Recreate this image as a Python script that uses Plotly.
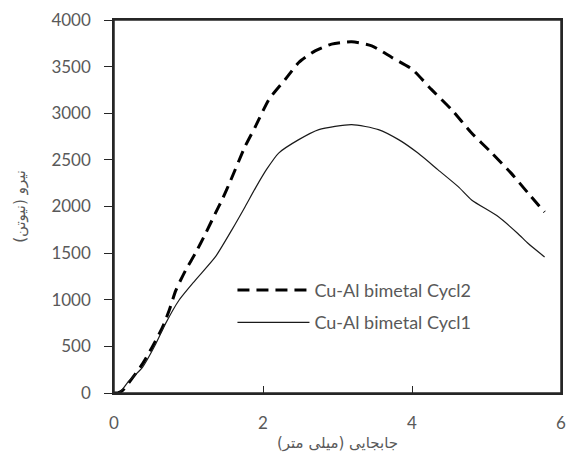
import plotly.graph_objects as go

# Cycle 2 (dashed)
disp_cycl2 = [0.00, 0.05, 0.12, 0.25, 0.38, 0.51, 0.65, 0.74, 0.83, 0.96, 1.09, 1.23, 1.36,
              1.45, 1.56, 1.76, 1.90, 2.08, 2.30, 2.48, 2.70, 2.92, 3.19, 3.46, 3.73,
              4.00, 4.26, 4.53, 4.80, 5.07, 5.33, 5.56, 5.78]
force_cycl2 = [0, 0, 30, 165, 309, 488, 704, 884, 1100, 1315, 1495, 1711, 1927,
               2070, 2268, 2645, 2860, 3148, 3364, 3544, 3669, 3741, 3766, 3723, 3598,
               3472, 3256, 3040, 2789, 2574, 2358, 2142, 1940]

# Cycle 1 (solid)
disp_cycl1 = [0.00, 0.08, 0.20, 0.38, 0.56, 0.69, 0.87, 1.09, 1.36, 1.58, 1.76, 1.90,
              2.05, 2.21, 2.48, 2.75, 3.19, 3.55, 3.82, 4.08, 4.35, 4.62, 4.80, 5.16,
              5.42, 5.56, 5.78]
force_cycl1 = [0, 10, 129, 273, 525, 741, 992, 1208, 1459, 1747, 1998, 2200,
               2400, 2573, 2717, 2825, 2879, 2825, 2717, 2573, 2393, 2213, 2070, 1890,
               1711, 1603, 1459]

x_ticks = [0, 2, 4, 6]
y_ticks = [0, 500, 1000, 1500, 2000, 2500, 3000, 3500, 4000]

label_cycl2 = "Cu-Al bimetal Cycl2"
label_cycl1 = "Cu-Al bimetal Cycl1"
x_title = "جابجایی (میلی متر)"
y_title = "نیرو (نیوتن)"

grey = "#595959"
frame = "#262626"
font_family = "Lato, 'Liberation Sans', 'DejaVu Sans', sans-serif"
ar_font = "'DejaVu Sans', sans-serif"

fig = go.Figure()
fig.add_trace(go.Scatter(x=disp_cycl2, y=force_cycl2, mode="lines", name=label_cycl2,
                         legendgroup="c2",
                         line=dict(color="black", width=3, dash="12px,7px", shape="spline", smoothing=0.6)))
fig.add_trace(go.Scatter(x=disp_cycl1, y=force_cycl1, mode="lines", name=label_cycl1,
                         legendgroup="c1",
                         line=dict(color="#1a1a1a", width=1.2, shape="spline", smoothing=0.6)))

# plot-area frame (top and right borders)
fig.add_shape(type="rect", xref="paper", yref="paper", x0=0, y0=0, x1=1, y1=1,
              line=dict(color=frame, width=1.5), fillcolor="rgba(0,0,0,0)", layer="above")

fig.update_layout(
    width=566, height=454,
    margin=dict(l=114, r=5, t=20, b=61, autoexpand=False),
    paper_bgcolor="white", plot_bgcolor="white",
    font=dict(family=font_family, size=17, color=grey),
    showlegend=True,
    legend=dict(x=0.265, y=0.325, xanchor="left", yanchor="top",
                bgcolor="rgba(0,0,0,0)", itemwidth=72,
                font=dict(family=font_family, size=18, color=grey),
                tracegroupgap=6),
    xaxis=dict(range=[0, 6], tickvals=x_ticks, ticks="inside", ticklen=7,
               tickcolor=frame, showline=True, linecolor=frame, linewidth=1.5,
               mirror=True, showgrid=False, zeroline=False, automargin=False,
               ticklabelstandoff=14, ticklabeloverflow="allow",
               tickfont=dict(size=17, color=grey),
               title=dict(text=x_title, font=dict(family=ar_font, size=15, color=grey), standoff=5)),
    yaxis=dict(range=[0, 4000], tickvals=y_ticks, ticks="outside", ticklen=8,
               tickcolor=frame, showline=True, linecolor=frame, linewidth=1.5,
               mirror=True, showgrid=False, zeroline=False, automargin=False,
               ticklabelstandoff=10, ticklabeloverflow="allow",
               tickfont=dict(size=17, color=grey),
               title=dict(text=y_title, font=dict(family=ar_font, size=15, color=grey), standoff=22)),
)

fig.write_html("out.html",
               config={"displayModeBar": False},
               post_script="document.documentElement.style.overflow='hidden';document.body.style.margin='0';document.body.style.overflow='hidden';")
